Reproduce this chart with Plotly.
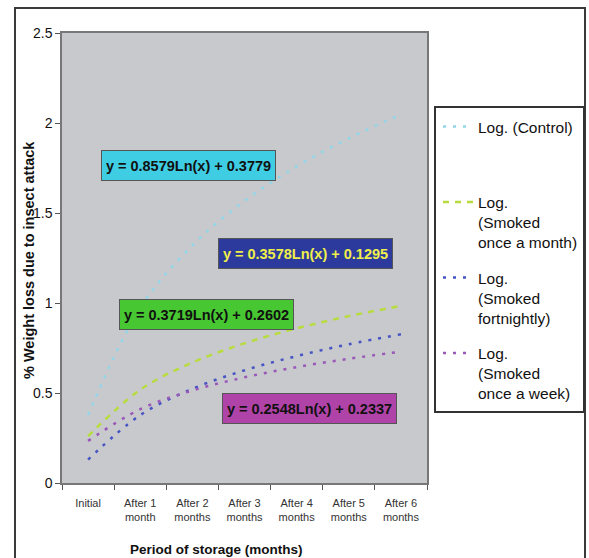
import plotly.graph_objects as go

# ---- data (values of the log trendlines at each period) ----
categories = ["Initial", "After 1<br>month", "After 2<br>months", "After 3<br>months",
              "After 4<br>months", "After 5<br>months", "After 6<br>months"]
control = [0.378, 0.973, 1.320, 1.567, 1.759, 1.915, 2.047]
once_month = [0.260, 0.518, 0.669, 0.776, 0.859, 0.927, 0.984]
fortnightly = [0.130, 0.377, 0.523, 0.626, 0.705, 0.771, 0.826]
once_week = [0.234, 0.410, 0.514, 0.587, 0.644, 0.690, 0.730]

series_names = ["Log. (Control)<br> <br> ",
                "Log.<br>(Smoked<br>once a month)",
                "Log.<br>(Smoked<br>fortnightly)",
                "Log.<br>(Smoked<br>once a week)"]
series_values = [control, once_month, fortnightly, once_week]
series_colors = ["#92D6E8", "#B8DC40", "#4654C4", "#9A58B8"]
series_dash = ["3px,7px", "6px,6px", "3px,7px", "3px,7px"]

equations = ["y = 0.8579Ln(x) + 0.3779", "y = 0.3578Ln(x) + 0.1295",
             "y = 0.3719Ln(x) + 0.2602", "y = 0.2548Ln(x) + 0.2337"]

W, H = 589, 558
L, R, T, B = 62, 427, 33, 483  # plot area in page pixels


def px(x):
    return (x - L) / (R - L)


def py(y):
    return (B - y) / (B - T)


fig = go.Figure()
for i, (name, vals) in enumerate(zip(series_names, series_values)):
    fig.add_trace(go.Scatter(
        x=categories, y=vals, mode="lines", name=name, legendgroup=str(i),
        line=dict(color=series_colors[i], width=2.5, dash=series_dash[i], shape="spline"),
    ))

shapes = [
    # outer chart frame
    dict(type="rect", xref="paper", yref="paper", x0=px(15), x1=px(585), y0=py(575), y1=py(8),
         line=dict(color="#3a3a3a", width=2), layer="below"),
    # legend frame
    dict(type="rect", xref="paper", yref="paper", x0=px(435), x1=px(584), y0=py(412), y1=py(107),
         line=dict(color="#333333", width=2)),
]

box_specs = [
    # (center x px, center y px, bg, text color)
    (188.5, 165.5, "#3FCDE3", "#111111"),
    (305.5, 253, "#2B3A9C", "#F0EE4A"),
    (206.5, 314, "#47C832", "#111111"),
    (309.5, 408.5, "#B043A8", "#111111"),
]
annotations = []
for eq, (cx, cy, bg, fc) in zip(equations, box_specs):
    annotations.append(dict(
        x=px(cx), y=py(cy), xref="paper", yref="paper", text="<b>%s</b>" % eq,
        xanchor="center", yanchor="middle", width=169, height=25,
        showarrow=False, bgcolor=bg, bordercolor="#555555", borderwidth=1, borderpad=2,
        font=dict(family="Liberation Sans, Arial", size=14.5, color=fc),
    ))
annotations.append(dict(
    x=px(29), y=py(260), xref="paper", yref="paper", text="<b>% Weight loss due to insect attack</b>",
    xanchor="center", yanchor="middle",
    textangle=-90, showarrow=False, font=dict(family="Liberation Sans, Arial", size=14.5, color="#111111"),
))
annotations.append(dict(
    x=px(216), y=py(549), xref="paper", yref="paper", text="<b>Period of storage (months)</b>",
    xanchor="center", yanchor="middle",
    showarrow=False, font=dict(family="Liberation Sans, Arial", size=13.5, color="#111111"),
))

fig.update_layout(
    width=W, height=H,
    margin=dict(l=L, r=W - R, t=T, b=H - B, autoexpand=False),
    paper_bgcolor="white", plot_bgcolor="#C8C9CD",
    font=dict(family="Liberation Sans, Arial", color="#222222"),
    showlegend=True,
    legend=dict(x=px(438), y=py(110), xanchor="left", yanchor="top",
                bgcolor="rgba(0,0,0,0)", borderwidth=0, traceorder="grouped",
                tracegroupgap=12, valign="top",
                font=dict(family="Liberation Sans, Arial", size=15.5, color="#111111")),
    shapes=shapes, annotations=annotations,
)
fig.update_xaxes(type="category", range=[-0.5, 6.5], tickson="boundaries", ticks="outside",
                 ticklen=5, tickcolor="#555555", showline=True, linecolor="#777777", linewidth=1.5,
                 mirror=True, showgrid=False, ticklabelstandoff=9,
                 tickfont=dict(family="Liberation Sans, Arial", size=11, color="#333333"))
fig.update_yaxes(range=[0, 2.5], tickvals=[0, 0.5, 1, 1.5, 2, 2.5],
                 ticktext=["0", "0.5", "1", "1.5", "2", "2.5"], ticks="outside", ticklen=5,
                 tickcolor="#555555", showline=True, linecolor="#777777", linewidth=1.5,
                 mirror=True, showgrid=False, zeroline=False,
                 tickfont=dict(family="Liberation Sans, Arial", size=14, color="#111111"))

fig.write_html("out.html", config={"displayModeBar": False},
               post_script="document.body.style.margin='0';document.body.style.overflow='hidden';")
